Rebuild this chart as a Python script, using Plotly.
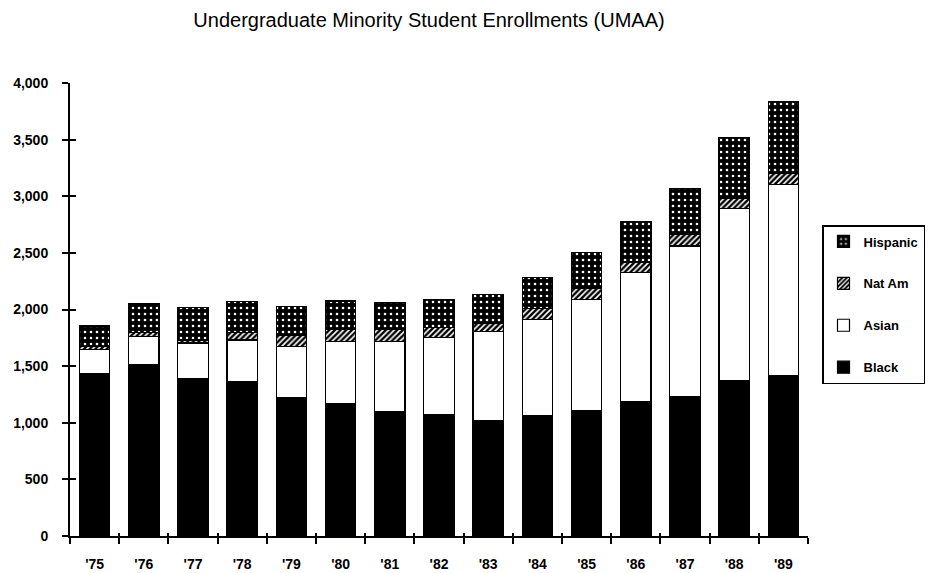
import plotly.graph_objects as go

years = ["'75", "'76", "'77", "'78", "'79", "'80", "'81", "'82", "'83", "'84", "'85", "'86", "'87", "'88", "'89"]
black = [1430, 1515, 1390, 1365, 1220, 1170, 1095, 1075, 1020, 1060, 1105, 1190, 1235, 1375, 1415]
asian = [220, 250, 315, 365, 455, 545, 620, 675, 785, 855, 980, 1135, 1325, 1515, 1690]
nat_am = [20, 30, 25, 70, 95, 105, 105, 90, 70, 95, 100, 95, 100, 95, 95]
hispanic = [185, 260, 285, 270, 260, 255, 245, 245, 255, 275, 320, 355, 410, 535, 635]
y_ticks = [0, 500, 1000, 1500, 2000, 2500, 3000, 3500, 4000]

FONT = "Liberation Sans, Arial, Helvetica, sans-serif"

fig = go.Figure()
line = dict(color="black", width=1.2)
fig.add_trace(go.Bar(name="Black", x=years, y=black, legendrank=4, legendgroup="black",
                     marker=dict(color="black", line=line)))
fig.add_trace(go.Bar(name="Asian", x=years, y=asian, legendrank=3, legendgroup="asian",
                     marker=dict(color="white", line=line)))
fig.add_trace(go.Bar(name="Nat Am", x=years, y=nat_am, legendrank=2, legendgroup="natam",
                     marker=dict(color="black", line=line,
                                 pattern=dict(shape="/", fgcolor="white", bgcolor="black",
                                              size=4, solidity=0.4, fillmode="replace"))))
fig.add_trace(go.Bar(name="Hispanic", x=years, y=hispanic, legendrank=1, legendgroup="hisp",
                     marker=dict(color="black", line=line,
                                 pattern=dict(shape=".", fgcolor="white", bgcolor="black",
                                              size=6, solidity=0.15, fillmode="replace"))))
# helper (invisible) trace for the overlaid axes that draw the inner half of the ticks
fig.add_trace(go.Scatter(x=years, y=black, xaxis="x2", yaxis="y2", mode="markers",
                         marker=dict(opacity=0), showlegend=False, hoverinfo="skip"))

xr = [-0.5, len(years) - 0.5]
fig.update_layout(
    template="none",
    width=928, height=573,
    barmode="stack", bargap=0.38,
    plot_bgcolor="white", paper_bgcolor="white",
    margin=dict(l=70, r=120, t=83, b=37, autoexpand=False),
    font=dict(family=FONT, color="black", size=14),
    title=dict(text="Undergraduate Minority Student Enrollments (UMAA)",
               x=429 / 928, xanchor="center", y=1 - 20 / 573, yanchor="middle",
               font=dict(family=FONT, size=20, color="black")),
    xaxis=dict(type="category", categoryorder="array", categoryarray=years, range=xr,
               showline=True, linecolor="black", linewidth=2, showgrid=False, zeroline=False,
               ticks="outside", ticklen=6, tickwidth=1.5, tickcolor="black",
               tickson="boundaries", tickfont=dict(size=14, family=FONT, weight="bold"),
               ticklabelstandoff=14, automargin=False),
    yaxis=dict(range=[0, 4000], tickvals=y_ticks, tickformat=",",
               showline=True, linecolor="black", linewidth=2, showgrid=False, zeroline=False,
               ticks="outside", ticklen=6, tickwidth=1.5, tickcolor="black",
               tickfont=dict(size=14, family=FONT, weight="bold"), ticklabelstandoff=11,
               automargin=False),
    xaxis2=dict(type="category", overlaying="x", matches="x", range=xr, showline=False,
                showgrid=False, zeroline=False, ticks="inside", ticklen=3, tickwidth=1.5,
                tickcolor="black", tickson="boundaries", showticklabels=False, side="bottom",
                automargin=False),
    yaxis2=dict(overlaying="y", matches="y", range=[0, 4000], showline=False, showgrid=False,
                zeroline=False, ticks="inside", ticklen=6, tickwidth=1.5, tickcolor="black",
                tickvals=y_ticks, showticklabels=False, side="left", automargin=False),
    legend=dict(x=(822 - 70) / 738, y=(536 - 225) / 453, xanchor="left", yanchor="top",
                traceorder="grouped", tracegroupgap=22,
                bordercolor="black", borderwidth=1.5, bgcolor="white",
                font=dict(size=13, family=FONT, weight="bold"), itemwidth=30),
)

fig.write_html("out.html", post_script="document.body.style.margin='0';",
               config={"displayModeBar": False})
